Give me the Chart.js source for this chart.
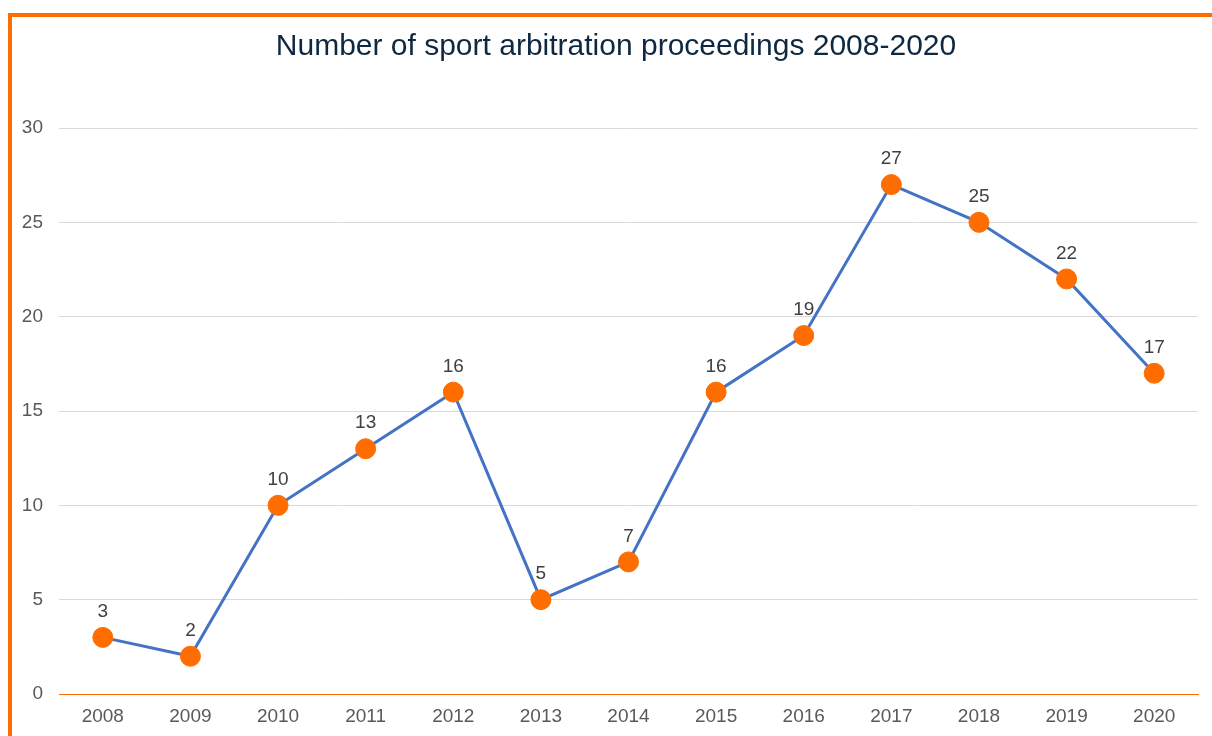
<!DOCTYPE html>
<html>
<head>
<meta charset="utf-8">
<script src="https://cdn.jsdelivr.net/npm/chart.js@4"></script>
<style>
  body { margin: 0; background: #fff; }
  #wrap { position: relative; width: 1212px; height: 736px; }
  #frame {
    position: absolute; left: 8px; top: 13px; right: 0; bottom: 0;
    border-top: 4px solid #FF6D00; border-left: 4px solid #FF6D00;
    pointer-events: none;
  }
</style>
</head>
<body>
<div id="wrap">
  <canvas id="myChart" width="1212" height="736"></canvas>
  <div id="frame"></div>
</div>
<script>
const years = ["2008", "2009", "2010", "2011", "2012", "2013", "2014",
  "2015", "2016", "2017", "2018", "2019", "2020"];
const proceedings = [3, 2, 10, 13, 16, 5, 7, 16, 19, 27, 25, 22, 17];
const yTicks = [0, 5, 10, 15, 20, 25, 30];
const chartTitle = "Number of sport arbitration proceedings 2008-2020";

const font = "'Liberation Sans', Arial, sans-serif";

// value labels above each point + title centred over the framed box
const extras = {
  id: "extras",
  afterDatasetsDraw(chart) {
    const c = chart.ctx;
    const meta = chart.getDatasetMeta(0);
    c.save();
    c.font = "19px " + font;
    c.fillStyle = "#404040";
    c.textAlign = "center";
    c.textBaseline = "bottom";
    meta.data.forEach((pt, i) => {
      c.fillText(proceedings[i], pt.x, pt.y - 16);
    });
    c.font = "30px " + font;
    c.fillStyle = "#0E2841";
    c.textBaseline = "middle";
    c.fillText(chartTitle, 616, 47);
    c.restore();
  },
};

new Chart(document.getElementById("myChart"), {
  type: "line",
  data: {
    labels: years,
    datasets: [
      {
        data: proceedings,
        borderColor: "#4472C4",
        borderWidth: 3,
        pointBackgroundColor: "#FF6D00",
        pointBorderColor: "#FF6D00",
        pointRadius: 10,
        pointBorderWidth: 1,
        tension: 0,
      },
    ],
  },
  options: {
    responsive: false,
    animation: false,
    layout: { padding: { top: 128, right: 14, bottom: 0, left: 0 } },
    plugins: {
      legend: { display: false },
      tooltip: { enabled: false },
      title: { display: false },
    },
    scales: {
      x: {
        offset: true,
        grid: { display: false, drawTicks: false },
        border: { display: true, color: "#FF6D00", width: 1 },
        ticks: { color: "#595959", font: { family: font, size: 19 }, padding: 11 },
        afterFit: (s) => { s.height = 42; },
      },
      y: {
        min: 0,
        max: 30,
        afterBuildTicks: (s) => { s.ticks = yTicks.map((v) => ({ value: v })); },
        grid: { color: "#D9D9D9", drawTicks: false },
        border: { display: false },
        ticks: { color: "#595959", font: { family: font, size: 19 }, padding: 16 },
        afterFit: (s) => { s.width = 59; },
      },
    },
  },
  plugins: [extras],
});
</script>
</body>
</html>
